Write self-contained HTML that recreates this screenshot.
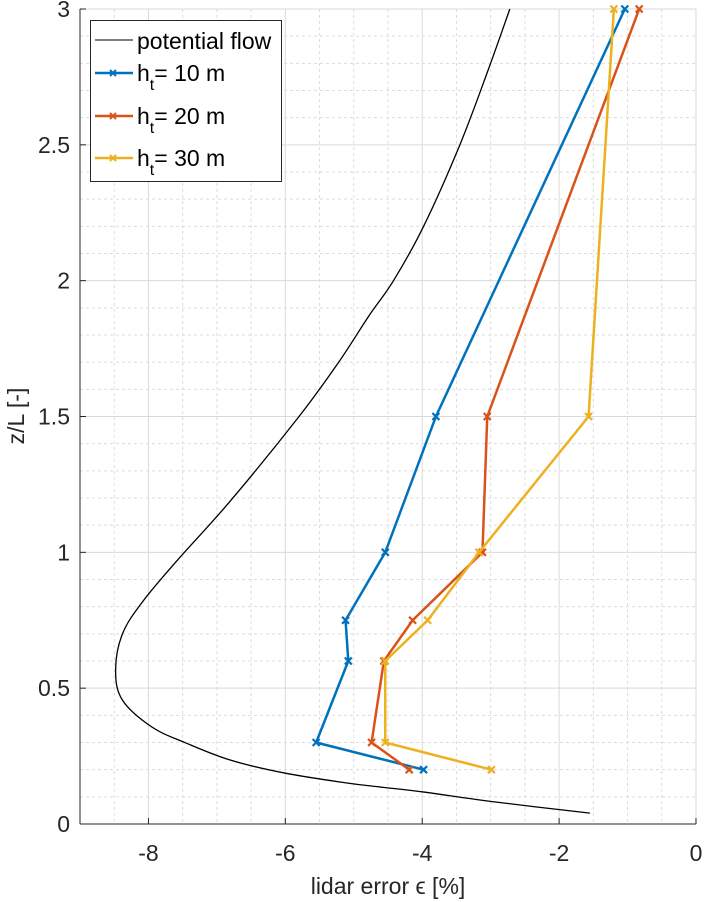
<!DOCTYPE html>
<html><head><meta charset="utf-8">
<style>
body{margin:0;background:#fff;}
svg{display:block;font-family:"Liberation Sans",Arial,sans-serif;}
</style></head>
<body>
<svg id="chart" width="706" height="902" viewBox="0 0 706 902" xmlns="http://www.w3.org/2000/svg">
<g id="grid"></g>
<g id="series"></g>
<g id="axes"></g>
<text x="388" y="894" font-size="23" text-anchor="middle" fill="#262626">lidar error ϵ [%]</text>
<text transform="translate(24,416) rotate(-90)" font-size="23" text-anchor="middle" fill="#262626">z/L [-]</text>
<g>
<rect x="90.5" y="20.5" width="191" height="161" fill="#fff" stroke="#262626" stroke-width="1"/>
<g>
<line x1="95" y1="40" x2="133" y2="40" stroke="#000" stroke-width="1"/>
<text x="137" y="49" font-size="23" fill="#000">potential flow</text></g>
<g>
<line x1="95" y1="73" x2="133" y2="73" stroke="#0072BD" stroke-width="2.5"/>
<path d="M110,70L116,76M110,76L116,70" stroke="#0072BD" stroke-width="2"/>
<text x="137" y="81" font-size="23" fill="#000">h<tspan font-size="16" dy="9">t</tspan><tspan dy="-9">= 10 m</tspan></text></g>
<g>
<line x1="95" y1="116" x2="133" y2="116" stroke="#D95319" stroke-width="2.5"/>
<path d="M110,113L116,119M110,119L116,113" stroke="#D95319" stroke-width="2"/>
<text x="137" y="124" font-size="23" fill="#000">h<tspan font-size="16" dy="9">t</tspan><tspan dy="-9">= 20 m</tspan></text></g>
<g>
<line x1="95" y1="158" x2="133" y2="158" stroke="#EDB120" stroke-width="2.5"/>
<path d="M110,155L116,161M110,161L116,155" stroke="#EDB120" stroke-width="2"/>
<text x="137" y="166" font-size="23" fill="#000">h<tspan font-size="16" dy="9">t</tspan><tspan dy="-9">= 30 m</tspan></text></g>
</g>
</svg>
<script>
const xTicks = [-8, -6, -4, -2, 0];
const xTickLabels = ["-8", "-6", "-4", "-2", "0"];
const yTicks = [0, 0.5, 1, 1.5, 2, 2.5, 3];
const yTickLabels = ["0", "0.5", "1", "1.5", "2", "2.5", "3"];
const potentialX = [-1.55, -2.93, -3.99, -4.61, -5.1, -6.0, -6.8, -7.45, -7.95, -8.38, -8.48, -8.38, -8.08, -7.58, -6.8, -5.8, -5.22, -4.78, -4.42, -3.98, -3.45, -3.03, -2.72];
const potentialZ = [0.04, 0.081, 0.118, 0.136, 0.151, 0.187, 0.235, 0.298, 0.357, 0.456, 0.566, 0.70, 0.82, 0.97, 1.19, 1.5, 1.7, 1.87, 2.0, 2.2, 2.5, 2.78, 3.0];
const zLevels = [0.2, 0.3, 0.6, 0.75, 1.0, 1.5, 3.0];
const ht10 = [-3.98, -5.55, -5.08, -5.12, -4.54, -3.8, -1.04];
const ht20 = [-4.19, -4.74, -4.56, -4.14, -3.12, -3.05, -0.83];
const ht30 = [-2.99, -4.54, -4.54, -3.92, -3.17, -1.57, -1.2];

const X0=80, X1=696, Y0=824, Y1=9, XMIN=-9, XMAX=0, YMIN=0, YMAX=3;
function sx(v){return X0+(v-XMIN)/(XMAX-XMIN)*(X1-X0);}
function sy(v){return Y0-(v-YMIN)/(YMAX-YMIN)*(Y0-Y1);}
const NS="http://www.w3.org/2000/svg";
function mk(tag,attrs,parent){const e=document.createElementNS(NS,tag);for(const k in attrs)e.setAttribute(k,attrs[k]);parent.appendChild(e);return e;}
const grid=document.getElementById('grid'), axes=document.getElementById('axes'), series=document.getElementById('series');
for(let i=0;i<=18;i++){const v=XMIN+i*0.5;if(Number.isInteger(v/2))continue;
 const l=mk('line',{x1:sx(v),x2:sx(v),y1:Y1,y2:Y0,stroke:'#dcdcdc','stroke-dasharray':'3,3','stroke-width':1},grid);
 
 }
for(let i=0;i<=30;i++){const v=i*0.1;if(i%5===0)continue;
 const l=mk('line',{x1:X0,x2:X1,y1:sy(v),y2:sy(v),stroke:'#dcdcdc','stroke-dasharray':'3,3','stroke-width':1},grid);
 
 }
xTicks.forEach((v,i)=>{
 const l=mk('line',{x1:sx(v),x2:sx(v),y1:Y1,y2:Y0,stroke:'#d9d9d9','stroke-width':1},grid);
 
 
 const t=mk('line',{x1:sx(v),x2:sx(v),y1:Y0,y2:Y0-6,stroke:'#262626'},axes);
 
 
 const tx=mk('text',{x:sx(v),y:Y0+37,'font-size':23,'text-anchor':'middle',fill:'#262626'},axes);
 tx.textContent=xTickLabels[i];
 
 
});
yTicks.forEach((v,i)=>{
 const l=mk('line',{x1:X0,x2:X1,y1:sy(v),y2:sy(v),stroke:'#d9d9d9','stroke-width':1},grid);
 
 
 const t=mk('line',{x1:X0,x2:X0+6,y1:sy(v),y2:sy(v),stroke:'#262626'},axes);
 
 
 const tx=mk('text',{x:X0-10,y:sy(v)+8,'font-size':23,'text-anchor':'end',fill:'#262626'},axes);
 tx.textContent=yTickLabels[i];
 
 
});
const ax1=mk('line',{x1:X0,x2:X0,y1:Y1,y2:Y0,stroke:'#262626','stroke-width':1},axes);


const ax2=mk('line',{x1:X0,x2:X1,y1:Y0,y2:Y0,stroke:'#262626','stroke-width':1},axes);



const P=potentialX.map((x,i)=>[sx(x),sy(potentialZ[i])]);
let d='M'+P[0][0]+','+P[0][1];
for(let i=0;i<P.length-1;i++){
 const p0=P[Math.max(i-1,0)],p1=P[i],p2=P[i+1],p3=P[Math.min(i+2,P.length-1)];
 const c1=[p1[0]+(p2[0]-p0[0])/6,p1[1]+(p2[1]-p0[1])/6];
 const c2=[p2[0]-(p3[0]-p1[0])/6,p2[1]-(p3[1]-p1[1])/6];
 d+=`C${c1[0]},${c1[1]} ${c2[0]},${c2[1]} ${p2[0]},${p2[1]}`;
}
const pf=mk('path',{d:d,fill:'none',stroke:'#000','stroke-width':1.3},series);



function drawSeries(vals,color,name){
 const pl=mk('polyline',{points:vals.map((x,i)=>sx(x)+','+sy(zLevels[i])).join(' '),fill:'none',stroke:color,'stroke-width':2.5,'stroke-linejoin':'round'},series);
 
 
 vals.forEach((x,i)=>{
  const cx=sx(x),cy=sy(zLevels[i]),r=3.5;
  const m=mk('path',{d:`M${cx-r},${cy-r}L${cx+r},${cy+r}M${cx-r},${cy+r}L${cx+r},${cy-r}`,stroke:color,'stroke-width':2.2},series);
  
  
 });
}
drawSeries(ht10,'#0072BD','ht10');
drawSeries(ht20,'#D95319','ht20');
drawSeries(ht30,'#EDB120','ht30');
</script>
</body></html>
